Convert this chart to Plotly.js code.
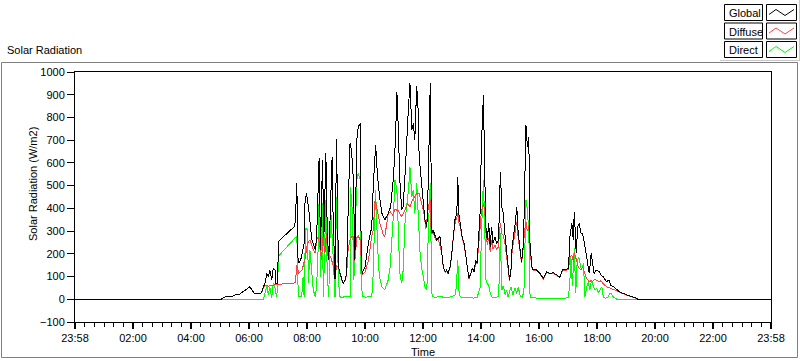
<!DOCTYPE html>
<html>
<head>
<meta charset="utf-8">
<script src="https://cdn.plot.ly/plotly-3.0.1.min.js"></script>
<style>
html,body{margin:0;padding:0;background:#fff;}
#chart{width:800px;height:361px;}
#chart .scatterlayer path.js-line{shape-rendering:crispEdges;}
</style>
</head>
<body>
<div id="chart"></div>
<script>
// time in minutes after midnight (-2 = 23:58 of the previous day)
const globalT = [-2,300,305,310,325,329,339,353,360,364,
369,377,384,388,391,395,398,401,405,408,
412,413,417,419,452,454,457,459,461,465,
468,472,474,477,481,484,488,491,495,498,
501,503,506,508,510,513,517,520,523,527,
530,532,536,539,543,546,550,553,557,560,
563,567,570,574,577,581,584,588,590,592,
598,605,612,615,620,624,629,633,639,646,
651,657,661,664,667,670,674,677,681,684,
688,691,695,698,701,705,708,710,714,717,
722,726,729,733,736,739,746,753,757,760,
764,767,770,774,777,781,784,788,790,792,
796,799,803,807,810,813,817,820,824,827,
830,834,836,839,843,846,848,851,854,857,
860,863,867,870,874,876,878,881,884,888,
891,895,897,900,902,905,908,912,915,919,
922,926,928,931,934,937,939,943,946,953,
960,967,974,981,988,995,1001,1007,1012,1019,
1022,1026,1029,1031,1035,1038,1041,1045,1048,1052,
1055,1059,1062,1066,1069,1072,1076,1083,1086,1091,
1095,1098,1103,1106,1112,1119,1126,1132,1143,1150,
1157,1163,1438];
const globalV = [0,0,7,12,14,19,23,44,55,41,
26,23,29,55,70,114,99,129,85,136,
129,70,68,255,320,349,513,187,158,173,
202,246,437,466,407,334,261,246,217,275,
539,620,217,510,612,275,642,290,173,437,
627,363,90,704,143,115,85,70,85,115,
380,686,657,525,173,700,759,774,231,114,
143,246,319,495,679,539,437,378,349,378,
407,539,700,913,745,525,393,407,554,700,
847,950,745,774,700,940,830,627,525,466,
349,319,525,950,290,305,261,276,202,143,
121,129,114,143,187,290,349,378,539,378,
319,275,246,187,143,92,114,136,121,173,
158,290,378,686,899,525,319,261,334,231,
319,246,275,246,261,378,561,407,378,275,
202,129,85,129,217,275,319,407,290,217,
165,246,525,766,671,715,261,143,129,129,
114,92,121,114,117,107,97,132,129,136,
275,334,261,385,202,319,334,290,290,246,
202,151,114,202,143,114,129,121,107,99,
85,77,85,63,55,41,31,26,15,11,
7,0,0];

const diffuseT = [-2,300,305,310,325,329,339,353,360,364,
369,377,384,388,391,398,405,412,419,454,
457,461,468,474,479,484,491,495,498,501,
505,508,511,515,518,522,527,532,536,539,
543,546,550,553,557,560,563,567,570,574,
577,581,584,588,590,592,598,605,612,615,
619,622,626,629,633,636,639,643,646,650,
655,660,667,674,681,686,691,696,701,706,
710,715,720,724,729,733,735,739,745,750,
757,760,764,767,770,774,777,781,784,788,
790,792,796,799,803,807,810,813,817,820,
824,827,830,834,836,839,843,846,848,851,
854,857,860,863,867,870,874,876,878,881,
884,888,891,895,897,900,902,905,908,912,
915,919,922,926,928,931,934,937,939,943,
946,953,960,967,974,981,988,995,1001,1007,
1012,1019,1022,1026,1029,1031,1035,1038,1041,1045,
1048,1052,1055,1059,1062,1066,1069,1072,1076,1083,
1086,1091,1098,1106,1112,1119,1126,1132,1143,1150,
1157,1163,1438];
const diffuseV = [0,0,7,12,14,19,23,44,55,41,
26,23,29,50,63,58,62,64,66,72,
151,114,129,180,246,261,217,202,261,275,
231,173,275,202,290,173,187,150,88,150,
140,112,84,69,84,112,217,261,275,275,
170,270,280,261,158,110,120,170,280,305,
440,407,363,330,305,280,275,350,378,385,
371,395,390,363,393,422,407,437,451,466,
466,422,378,310,407,437,290,290,262,261,
202,140,118,126,111,140,184,280,330,360,
378,340,310,270,240,185,140,90,112,133,
119,160,155,270,340,390,422,380,300,240,
270,210,260,220,240,220,230,300,334,290,
280,240,190,125,82,125,200,250,290,341,
270,210,160,240,300,340,300,320,230,140,
126,126,111,90,118,111,114,104,95,129,
126,133,187,195,165,209,170,151,136,129,
143,114,99,85,77,82,80,85,85,77,
82,67,55,48,44,37,29,24,14,10,
6,0,0];

const directT = [-2,384,388,391,395,398,401,405,408,412,
415,417,419,457,460,467,470,472,475,479,
481,484,488,491,495,498,501,503,506,509,
512,515,517,520,523,527,529,533,536,539,
543,546,550,557,564,567,568,572,575,579,
581,584,588,590,594,600,606,612,615,617,
620,622,626,629,633,639,646,650,653,657,
660,664,667,670,674,677,681,684,688,691,
695,698,701,705,708,712,715,719,722,726,
729,733,736,739,745,752,760,770,778,785,
787,790,792,795,802,812,822,830,836,839,
843,846,848,851,854,857,860,867,874,876,
878,881,884,888,891,894,900,904,908,912,
915,919,924,927,930,931,934,937,939,941,
955,975,995,1010,1019,1022,1024,1027,1029,1031,
1034,1037,1040,1043,1046,1050,1053,1057,1060,1063,
1067,1070,1074,1077,1081,1088,1091,1095,1101,1105,
1108,1112,1119,1438];
const directV = [0,0,0,26,63,18,55,7,70,50,
11,48,190,278,11,11,99,11,312,305,
70,217,100,41,11,60,217,437,100,437,
11,217,437,100,11,400,290,150,11,451,
85,11,8,12,10,11,495,380,85,420,
525,554,525,55,11,9,12,11,114,275,
481,349,143,90,55,41,85,143,231,378,
525,481,300,114,70,129,349,407,481,580,
451,481,378,510,349,202,143,85,55,41,
305,510,26,11,8,14,9,7,12,20,
60,173,40,12,6,9,5,8,50,290,
525,300,85,70,60,30,10,7,12,100,
290,40,60,20,40,10,55,18,50,25,
55,15,8,50,300,437,393,290,26,8,
5,4,5,3,8,85,187,60,143,224,
26,165,187,160,129,158,11,55,77,41,
85,60,40,48,30,55,11,4,11,26,
23,9,0,0];

const tickVals = [-2,118,238,358,478,598,718,838,958,1078,1198,1318,1438];
const tickText = ['23:58','02:00','04:00','06:00','08:00','10:00','12:00','14:00','16:00','18:00','20:00','22:00','23:58'];
const seriesNames = ['Global','Diffuse','Direct'];
const seriesColors = ['#000000','#ff4040','#00ff00'];

const FONT = 'Liberation Sans, Arial, sans-serif';
const L = 75, R = 771, T = 72, B = 322;
function px(x){ return (x - L) / (R - L); }
function py(y){ return (B - y) / (B - T); }

const traces = [
  {x: directT, y: directV, name: 'Direct', mode: 'lines', line: {color: seriesColors[2], width: 1}, hoverinfo: 'skip'},
  {x: diffuseT, y: diffuseV, name: 'Diffuse', mode: 'lines', line: {color: seriesColors[1], width: 1}, hoverinfo: 'skip'},
  {x: globalT, y: globalV, name: 'Global', mode: 'lines', line: {color: seriesColors[0], width: 1}, hoverinfo: 'skip'}
];

const shapes = [
  {type: 'rect', xref: 'paper', yref: 'paper', x0: px(1.5), x1: px(797.5), y0: py(357.5), y1: py(62.5), line: {color: '#808080', width: 1}},
  {type: 'line', xref: 'paper', yref: 'paper', x0: px(720), x1: px(800), y0: py(60.5), y1: py(60.5), line: {color: '#c8c8c8', width: 1}},
  {type: 'line', xref: 'paper', yref: 'paper', x0: px(799.5), x1: px(799.5), y0: py(0), y1: py(60.5), line: {color: '#c8c8c8', width: 1}}
];
const annotations = [
  {text: 'Solar Radiation', xref: 'paper', yref: 'paper', x: px(5), y: py(50), xanchor: 'left', yanchor: 'middle', showarrow: false, font: {family: FONT, size: 11, color: '#000'}},
  {text: 'Solar Radiation (W/m2)', xref: 'paper', yref: 'paper', x: px(33), y: py(184), textangle: -90, xanchor: 'center', yanchor: 'middle', showarrow: false, font: {family: FONT, size: 11, color: '#000'}},
  {text: 'Time', xref: 'paper', yref: 'paper', x: px(423), y: py(352), xanchor: 'center', yanchor: 'middle', showarrow: false, font: {family: FONT, size: 11, color: '#000'}}
];
seriesNames.forEach(function(n, i){
  const top = 4.5 + i * 18.5;
  shapes.push({type: 'rect', xref: 'paper', yref: 'paper', x0: px(724.5), x1: px(762.5), y0: py(top + 16), y1: py(top), line: {color: '#000', width: 1}, fillcolor: '#fff'});
  shapes.push({type: 'rect', xref: 'paper', yref: 'paper', x0: px(766.5), x1: px(796.5), y0: py(top + 16), y1: py(top), line: {color: '#000', width: 1}, fillcolor: '#fff'});
  const pts = [[769, top + 10], [776, top + 5], [785, top + 11], [794, top + 5]];
  const path = 'M ' + pts.map(function(p){ return px(p[0]) + ',' + py(p[1]); }).join(' L ');
  shapes.push({type: 'path', xref: 'paper', yref: 'paper', path: path, line: {color: seriesColors[i], width: 1}});
  annotations.push({text: n, xref: 'paper', yref: 'paper', x: px(727), y: py(top + 8.5), xanchor: 'left', yanchor: 'middle', showarrow: false, font: {family: FONT, size: 11, color: '#000'}});
});

const layout = {
  width: 800, height: 361,
  margin: {l: L, r: 800 - R, t: T, b: 361 - B, pad: 0},
  paper_bgcolor: '#ffffff', plot_bgcolor: '#ffffff',
  showlegend: false,
  font: {family: FONT, size: 11, color: '#000'},
  xaxis: {
    range: [-2, 1438], tickmode: 'array', tickvals: tickVals, ticktext: tickText,
    ticks: 'outside', ticklen: 6, tickwidth: 2, tickcolor: '#000',
    showline: true, mirror: true, linecolor: '#000', linewidth: 1,
    showgrid: false, zeroline: false,
    tickfont: {family: FONT, size: 11, color: '#000'},
    minor: {tickmode: 'linear', tick0: -2, dtick: 20, ticks: 'outside', ticklen: 4, tickwidth: 1, tickcolor: '#000', showgrid: false}
  },
  yaxis: {
    range: [-100, 1000], tickmode: 'linear', tick0: 0, dtick: 100,
    ticks: 'outside', ticklen: 7, tickwidth: 1, tickcolor: '#000',
    showline: true, mirror: true, linecolor: '#000', linewidth: 1,
    showgrid: false, zeroline: false,
    tickfont: {family: FONT, size: 11, color: '#000'}
  },
  shapes: shapes,
  annotations: annotations
};

Plotly.newPlot('chart', traces, layout, {displayModeBar: false, staticPlot: true});
</script>
</body>
</html>
